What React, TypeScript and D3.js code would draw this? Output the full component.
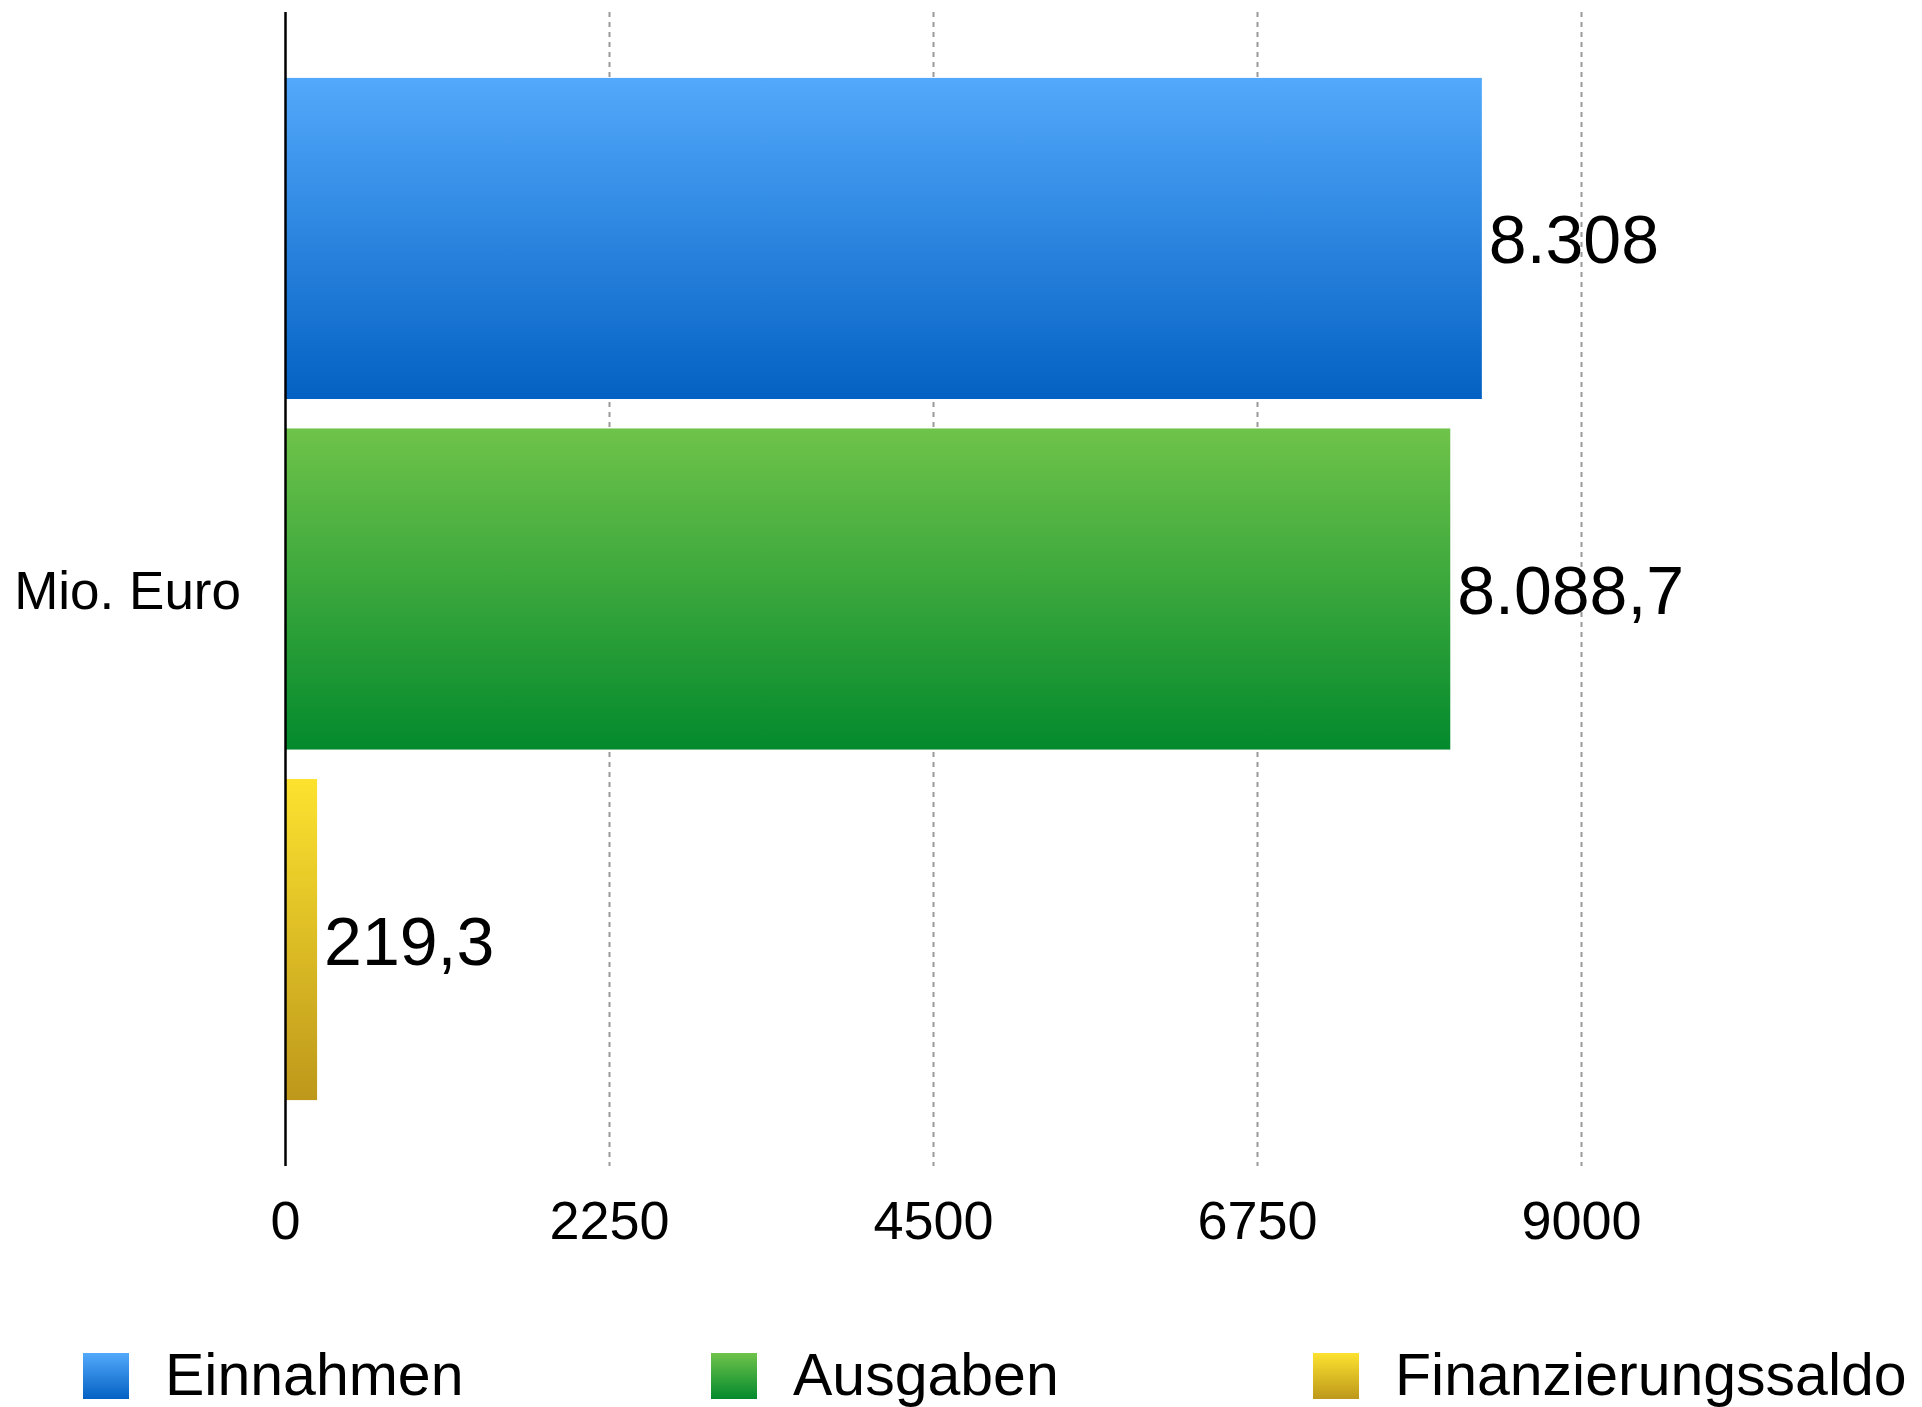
import React from "react";
import * as d3 from "d3";

const category = "Mio. Euro";
const seriesNames = ["Einnahmen", "Ausgaben", "Finanzierungssaldo"];
const seriesValues = [8308, 8088.7, 219.3];
const valueLabels = ["8.308", "8.088,7", "219,3"];
const tickValues = [0, 2250, 4500, 6750, 9000];
const gradientStops = [
  ["#53a9fb", "#0461c3"],
  ["#6fc34a", "#038a2d"],
  ["#fde22f", "#bd981b"],
];

const W = 1922;
const H = 1407;
const FONT = "'Liberation Sans', Helvetica, Arial, sans-serif";

export default function App() {
  const x = d3.scaleLinear().domain([0, 9000]).range([285.5, 1581.5]);
  const y = d3
    .scaleBand<string>()
    .domain(seriesNames)
    .range([12, 1166])
    .paddingInner(0.084)
    .paddingOuter(0.188);
  const plotTop = 12;
  const plotBottom = 1166;
  const legendX = [83, 711, 1313];

  return (
    <svg
      width={W}
      height={H}
      style={{ position: "absolute", left: 0, top: 0, background: "#fff" }}
      fontFamily={FONT}
    >
      <defs>
        {gradientStops.map((g, i) => (
          <linearGradient key={i} id={`grad${i}`} x1="0" y1="0" x2="0" y2="1">
            <stop offset="0%" stopColor={g[0]} />
            <stop offset="100%" stopColor={g[1]} />
          </linearGradient>
        ))}
      </defs>
      {tickValues
        .filter((t) => t !== 0)
        .map((t) => (
          <line
            key={t}
            x1={x(t)}
            x2={x(t)}
            y1={plotTop}
            y2={plotBottom}
            stroke="#9a9a9a"
            strokeWidth={2}
            strokeDasharray="5 5"
          />
        ))}
      {seriesNames.map((s, i) => (
        <rect
          key={s}
          x={x(0)}
          y={y(s)}
          width={x(seriesValues[i]) - x(0)}
          height={y.bandwidth()}
          fill={`url(#grad${i})`}
        />
      ))}
      {seriesNames.map((s, i) => (
        <text
          key={s}
          x={x(seriesValues[i]) + 7}
          y={(y(s) as number) + y.bandwidth() / 2 + 25}
          fontSize={68}
          fill="#000"
        >
          {valueLabels[i]}
        </text>
      ))}
      <line x1={x(0)} x2={x(0)} y1={plotTop} y2={plotBottom} stroke="#000" strokeWidth={2.5} />
      {tickValues.map((t) => (
        <text key={t} x={x(t)} y={1239} fontSize={54} textAnchor="middle" fill="#000">
          {t}
        </text>
      ))}
      <text x={241} y={609} fontSize={53} textAnchor="end" fill="#000">
        {category}
      </text>
      {seriesNames.map((s, i) => (
        <g key={s}>
          <rect x={legendX[i]} y={1353} width={46} height={46} fill={`url(#grad${i})`} />
          <text x={legendX[i] + 82} y={1395} fontSize={59} fill="#000">
            {s}
          </text>
        </g>
      ))}
    </svg>
  );
}
